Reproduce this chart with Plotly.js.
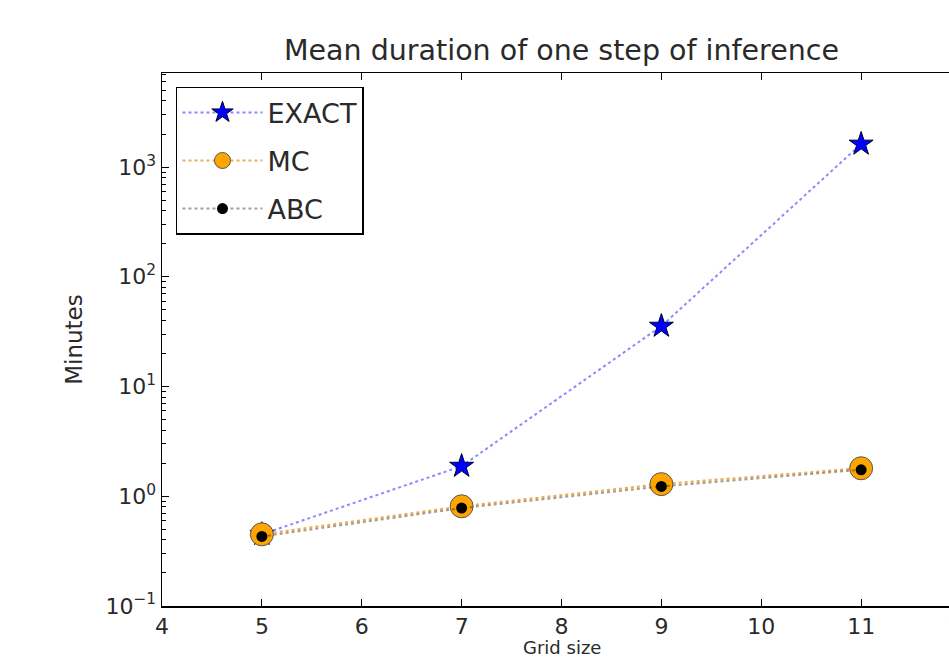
<!DOCTYPE html>
<html>
<head>
<meta charset="utf-8">
<script src="https://cdn.plot.ly/plotly-3.0.1.min.js"></script>
<style>
html,body{margin:0;padding:0;overflow:hidden;background:#fff;}
#chart{width:1000px;height:658px;}
</style>
</head>
<body>
<div id="chart"></div>
<script>
const gridSize = [5, 7, 9, 11];
const exactMinutes = [0.45, 1.88, 35.5, 1620];
const mcMinutes = [0.45, 0.81, 1.29, 1.80];
const abcMinutes = [0.43, 0.78, 1.23, 1.74];
const yTickVals = [0.1, 1, 10, 100, 1000];
const yTickText = ['10<sup>−1</sup>', '10<sup>0</sup>', '10<sup>1</sup>', '10<sup>2</sup>', '10<sup>3</sup>'];
const xTickVals = [4, 5, 6, 7, 8, 9, 10, 11, 12];

const minorVals = [];
for (let e = -1; e <= 3; e++) {
  for (let m = 2; m <= 9; m++) minorVals.push(m * Math.pow(10, e));
}

const FONT = 'DejaVu Sans, sans-serif';
const TXT = '#2a2a2a';
const traces = [
  {
    x: gridSize, y: exactMinutes, name: 'EXACT', type: 'scatter', mode: 'lines+markers', legendgroup: 'g1',
    line: {color: 'rgba(60,60,255,0.6)', width: 2, dash: 'dot'},
    marker: {symbol: 'star', size: 18, color: '#0000ff', line: {color: '#000033', width: 1}}
  },
  {
    x: gridSize, y: mcMinutes, name: 'MC', type: 'scatter', mode: 'lines+markers', legendgroup: 'g2',
    line: {color: 'rgba(220,140,20,0.7)', width: 2.2, dash: 'dot'},
    marker: {symbol: 'circle', size: 23, color: '#ffa500', line: {color: '#555', width: 1}}
  },
  {
    x: gridSize, y: abcMinutes, name: 'ABC', type: 'scatter', mode: 'lines+markers', legendgroup: 'g3',
    line: {color: 'rgba(60,40,0,0.45)', width: 2, dash: 'dot'},
    marker: {symbol: 'circle', size: 11, color: '#000000'}
  }
];

const layout = {
  width: 1000, height: 658,
  margin: {l: 162, r: 39, t: 73, b: 52},
  paper_bgcolor: '#fff', plot_bgcolor: '#fff',
  font: {family: FONT, color: TXT, size: 22},
  showlegend: true,
  title: {
    text: 'Mean duration of one step of inference',
    font: {family: FONT, size: 28.5, color: TXT},
    x: 0.5, xref: 'paper', xanchor: 'center',
    y: 1, yref: 'paper', yanchor: 'bottom', pad: {b: 13}
  },
  xaxis: {
    type: 'linear', range: [4, 12],
    tickmode: 'array', tickvals: xTickVals,
    ticks: 'inside', ticklen: 7, tickcolor: '#000', tickwidth: 1,
    showline: true, linecolor: '#000', linewidth: 1.5, mirror: 'allticks',
    showgrid: false, zeroline: false,
    tickfont: {family: FONT, size: 22, color: TXT}
  },
  yaxis: {
    type: 'log', range: [-1, 3.857],
    tickmode: 'array', tickvals: yTickVals, ticktext: yTickText,
    ticks: 'inside', ticklen: 7, tickcolor: '#000', tickwidth: 1,
    showline: true, linecolor: '#000', linewidth: 1.5, mirror: 'allticks',
    showgrid: false, zeroline: false,
    minor: {tickmode: 'array', tickvals: minorVals, ticks: 'inside', ticklen: 4, tickcolor: '#000', showgrid: false},
    tickfont: {family: FONT, size: 22, color: TXT},
    title: {text: 'Minutes', font: {family: FONT, size: 23, color: TXT}, standoff: 16}
  },
  annotations: [{
    text: 'Grid size', xref: 'paper', yref: 'paper', x: 0.5, y: -0.056,
    xanchor: 'center', yanchor: 'top', showarrow: false,
    font: {family: FONT, size: 18, color: TXT}, borderpad: 0
  }],
  legend: {
    x: 0.0175, y: 0.974, xanchor: 'left', yanchor: 'top',
    bgcolor: '#fff', bordercolor: '#000', borderwidth: 1.5,
    font: {family: FONT, size: 27, color: TXT},
    tracegroupgap: 10, itemsizing: 'trace', itemwidth: 80
  }
};

Plotly.newPlot('chart', traces, layout, {displayModeBar: false, staticPlot: true});
</script>
</body>
</html>
